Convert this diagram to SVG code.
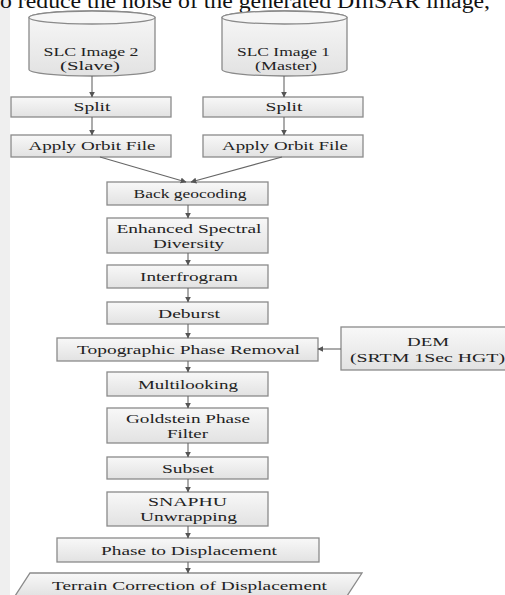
<svg xmlns="http://www.w3.org/2000/svg" width="505" height="595" viewBox="0 0 505 595">
<defs>
<linearGradient id="g" x1="0" y1="0" x2="0" y2="1">
<stop offset="0" stop-color="#f8f8f8"/>
<stop offset="1" stop-color="#e2e2e2"/>
</linearGradient>
<marker id="a" viewBox="0 0 10 10" refX="9" refY="5" markerWidth="6" markerHeight="6" orient="auto" markerUnits="userSpaceOnUse">
<path d="M0,0 L10,5 L0,10 z" fill="#555"/>
</marker>
<style>
.box{fill:url(#g);stroke:#8a8a8a;stroke-width:1.3}
.t{font-family:"Liberation Serif","Times New Roman",serif;font-size:13px;fill:#222;text-anchor:middle}
.s{font-size:12px}
.c{stroke:#666;stroke-width:1.1;fill:none;marker-end:url(#a)}
</style>
</defs>
<rect x="0" y="0" width="505" height="595" fill="#ffffff"/>
<rect x="0" y="0" width="10" height="595" fill="#efefef"/>
<text x="0" y="8" font-family="'Liberation Serif','Times New Roman',serif" font-size="20" fill="#111" textLength="490" lengthAdjust="spacingAndGlyphs">o reduce the noise of the generated DInSAR image,</text>

<g id="slc2">
<path class="box" d="M29,17.5 L29,69.5 A63,6.5 0 0 0 155,69.5 L155,17.5 A63,6.5 0 0 0 29,17.5 z"/>
<ellipse cx="92" cy="17.5" rx="63" ry="6.5" fill="#f6f6f6" stroke="#8a8a8a" stroke-width="1.3"/>
<text class="t s" x="91" y="56" textLength="95" lengthAdjust="spacingAndGlyphs">SLC Image 2</text>
<text class="t s" x="90" y="70" textLength="60" lengthAdjust="spacingAndGlyphs">(Slave)</text>
</g>
<g id="slc1">
<path class="box" d="M222,17.5 L222,69.5 A62.5,6.5 0 0 0 347,69.5 L347,17.5 A62.5,6.5 0 0 0 222,17.5 z"/>
<ellipse cx="284.5" cy="17.5" rx="62.5" ry="6.5" fill="#f6f6f6" stroke="#8a8a8a" stroke-width="1.3"/>
<text class="t s" x="283.5" y="56" textLength="93" lengthAdjust="spacingAndGlyphs">SLC Image 1</text>
<text class="t s" x="286" y="70" textLength="62" lengthAdjust="spacingAndGlyphs">(Master)</text>
</g>
<g id="split2"><rect class="box" x="11" y="97" width="160" height="20"/><text class="t" x="92" y="111" textLength="37" lengthAdjust="spacingAndGlyphs">Split</text></g>
<g id="split1"><rect class="box" x="203" y="97" width="160" height="20"/><text class="t" x="284" y="111" textLength="37" lengthAdjust="spacingAndGlyphs">Split</text></g>
<g id="orbit2"><rect class="box" x="11" y="135" width="160" height="22"/><text class="t" x="92" y="150" textLength="127" lengthAdjust="spacingAndGlyphs">Apply Orbit File</text></g>
<g id="orbit1"><rect class="box" x="203" y="135" width="160" height="22"/><text class="t" x="285" y="150" textLength="126" lengthAdjust="spacingAndGlyphs">Apply Orbit File</text></g>
<g id="backgeo"><rect class="box" x="107" y="182" width="161" height="23"/><text class="t" x="190" y="198" textLength="113" lengthAdjust="spacingAndGlyphs">Back geocoding</text></g>
<g id="esd"><rect class="box" x="107" y="218" width="161" height="35"/><text class="t" x="189" y="233" textLength="145" lengthAdjust="spacingAndGlyphs">Enhanced Spectral</text><text class="t" x="188.5" y="248" textLength="71" lengthAdjust="spacingAndGlyphs">Diversity</text></g>
<g id="ifg"><rect class="box" x="107" y="265" width="161" height="23"/><text class="t" x="189" y="281" textLength="98" lengthAdjust="spacingAndGlyphs">Interfrogram</text></g>
<g id="deburst"><rect class="box" x="107" y="302" width="161" height="22"/><text class="t" x="189" y="318" textLength="62" lengthAdjust="spacingAndGlyphs">Deburst</text></g>
<g id="topo"><rect class="box" x="57" y="338" width="261" height="23"/><text class="t" x="188.5" y="354" textLength="223" lengthAdjust="spacingAndGlyphs">Topographic Phase Removal</text></g>
<g id="dem"><rect class="box" x="341" y="327" width="170" height="43"/><text class="t" x="428" y="346" textLength="42" lengthAdjust="spacingAndGlyphs">DEM</text><text class="t" x="427.5" y="362" textLength="155" lengthAdjust="spacingAndGlyphs">(SRTM 1Sec HGT)</text></g>
<g id="multi"><rect class="box" x="107" y="372" width="161" height="24"/><text class="t" x="188" y="389" textLength="100" lengthAdjust="spacingAndGlyphs">Multilooking</text></g>
<g id="gold"><rect class="box" x="107" y="408" width="161" height="35"/><text class="t" x="188" y="423" textLength="124" lengthAdjust="spacingAndGlyphs">Goldstein Phase</text><text class="t" x="187.5" y="438" textLength="41" lengthAdjust="spacingAndGlyphs">Filter</text></g>
<g id="subset"><rect class="box" x="107" y="457" width="161" height="22"/><text class="t" x="188" y="473" textLength="52" lengthAdjust="spacingAndGlyphs">Subset</text></g>
<g id="snaphu"><rect class="box" x="107" y="492" width="161" height="34"/><text class="t" x="187.5" y="506" textLength="79" lengthAdjust="spacingAndGlyphs">SNAPHU</text><text class="t" x="188.5" y="521" textLength="97" lengthAdjust="spacingAndGlyphs">Unwrapping</text></g>
<g id="p2d"><rect class="box" x="57" y="538" width="262" height="24"/><text class="t" x="189" y="555" textLength="176" lengthAdjust="spacingAndGlyphs">Phase to Displacement</text></g>
<g id="terrain"><path class="box" d="M30,573 L362,573 L347,596 L15,596 z"/><text class="t" x="189.5" y="590" textLength="275" lengthAdjust="spacingAndGlyphs">Terrain Correction of Displacement</text></g>

<g id="connectors">
<path class="c" d="M92,76 L92,97"/>
<path class="c" d="M284,76 L284,97"/>
<path class="c" d="M92,117 L92,135"/>
<path class="c" d="M284,117 L284,135"/>
<path class="c" d="M100,157 L186,182"/>
<path class="c" d="M282,157 L191,182"/>
<path class="c" d="M188,205 L188,218"/>
<path class="c" d="M188,253 L188,265"/>
<path class="c" d="M188,288 L188,302"/>
<path class="c" d="M188,324 L188,338"/>
<path class="c" d="M341,349 L318,349"/>
<path class="c" d="M188,361 L188,372"/>
<path class="c" d="M188,396 L188,408"/>
<path class="c" d="M188,443 L188,457"/>
<path class="c" d="M188,479 L188,492"/>
<path class="c" d="M188,526 L188,538"/>
<path class="c" d="M188,562 L188,573"/>
</g>
</svg>
